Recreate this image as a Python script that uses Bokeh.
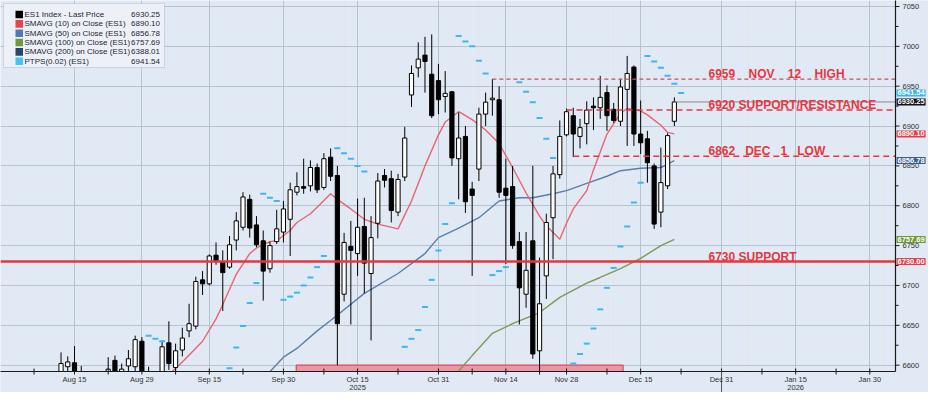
import pandas as pd
from bokeh.plotting import figure
from bokeh.models import (ColumnDataSource, Range1d, FixedTicker, Span, Label, BoxAnnotation, Grid)
from bokeh.core.properties import value
from bokeh.embed import file_html
from bokeh.resources import INLINE

# ---------------- data (trading-day index, 0 = Aug 15 2025) ----------------
DAY_IDX = list(range(-2, 90))
OPEN = [6575, 6598, 6603, 6572, 6578, 6545, 6548, 6530, 6606, 6568, 6599, 6598, 6630, 6585, 6550,
        6575, 6628, 6597, 6619, 6643, 6649, 6707, 6702, 6738, 6730, 6723, 6757, 6773, 6808, 6776,
        6756, 6721, 6755, 6767, 6783, 6817, 6824, 6825, 6848, 6823, 6861, 6838, 6689, 6749, 6740,
        6774, 6715, 6778, 6838, 6834, 6792, 6836, 6939, 6973, 6989, 6965, 6957, 6937, 6943, 6859,
        6887, 6821, 6846, 6915, 6933, 6933, 6822, 6824, 6755, 6689, 6756, 6618, 6712, 6785, 6839,
        6889, 6913, 6887, 6903, 6925, 6923, 6942, 6921, 6906, 6946, 6974, 6890, 6884, 6850, 6792,
        6825, 6906]
HIGH = [6616, 6611, 6624, 6599, 6591, 6560, 6560, 6610, 6612, 6602, 6619, 6637, 6635, 6598, 6580,
        6631, 6655, 6627, 6647, 6677, 6711, 6718, 6739, 6754, 6744, 6762, 6792, 6817, 6814, 6787,
        6769, 6755, 6795, 6806, 6829, 6842, 6859, 6857, 6853, 6866, 6872, 6850, 6766, 6781, 6809,
        6810, 6787, 6841, 6846, 6844, 6840, 6899, 6976, 7005, 7012, 7015, 6978, 6969, 6944, 6917,
        6900, 6830, 6923, 6942, 6959, 6950, 6859, 6850, 6767, 6767, 6850, 6735, 6790, 6850, 6907,
        6922, 6923, 6909, 6931, 6936, 6963, 6951, 6929, 6959, 6988, 6976, 6932, 6894, 6853, 6873,
        6891, 6936]
LOW = [6570, 6580, 6565, 6562, 6540, 6510, 6520, 6525, 6566, 6562, 6591, 6590, 6580, 6530, 6540,
       6570, 6594, 6590, 6611, 6635, 6645, 6688, 6700, 6726, 6668, 6721, 6744, 6769, 6760, 6748,
       6681, 6716, 6752, 6754, 6737, 6813, 6815, 6818, 6816, 6820, 6831, 6600, 6680, 6651, 6712,
       6690, 6631, 6759, 6823, 6779, 6787, 6831, 6924, 6961, 6942, 6910, 6915, 6917, 6850, 6808,
       6791, 6712, 6831, 6900, 6913, 6810, 6727, 6746, 6651, 6672, 6608, 6575, 6683, 6733, 6834,
       6887, 6861, 6872, 6877, 6895, 6909, 6894, 6904, 6900, 6875, 6875, 6865, 6829, 6771, 6773,
       6821, 6900]
CLOSE = [6602, 6604, 6570, 6576, 6548, 6550, 6530, 6595, 6570, 6595, 6608, 6632, 6586, 6540, 6575,
         6623, 6602, 6618, 6634, 6652, 6705, 6702, 6737, 6730, 6716, 6751, 6781, 6811, 6772, 6751,
         6718, 6750, 6771, 6796, 6820, 6824, 6822, 6848, 6820, 6859, 6837, 6652, 6754, 6744, 6773,
         6728, 6760, 6831, 6832, 6794, 6833, 6885, 6966, 6984, 6981, 6913, 6933, 6941, 6860, 6885,
         6805, 6813, 6915, 6930, 6935, 6817, 6813, 6750, 6697, 6719, 6614, 6677, 6779, 6840, 6887,
         6918, 6890, 6898, 6920, 6923, 6936, 6913, 6907, 6949, 6966, 6890, 6879, 6854, 6777, 6829,
         6888, 6930.25]

SMA10_X = [13, 16, 19, 21, 22, 24, 26, 27, 29, 30, 32, 33, 35, 36, 38, 39, 41, 43, 45, 48, 50, 52,
           54, 55, 57, 59, 61, 63, 65, 67, 69, 70, 72, 73, 74, 76, 77, 79, 81, 82, 84, 85, 87, 88, 89]
SMA10_Y = [6580, 6604, 6630, 6658, 6676, 6714, 6740, 6747, 6755, 6756, 6769, 6779, 6790, 6798, 6815,
           6808, 6796, 6783, 6777, 6771, 6806, 6850, 6889, 6905, 6918, 6908, 6895, 6878, 6848, 6816,
           6787, 6775, 6758, 6778, 6796, 6819, 6845, 6890, 6916, 6922, 6919, 6914, 6901, 6892, 6890.10]
SMA50_X = [28, 31, 33, 36, 38, 43, 48, 52, 54, 57, 60, 63, 66, 68, 71, 73, 76, 79, 81, 84, 87, 88, 89]
SMA50_Y = [6583, 6610, 6621, 6643, 6656, 6690, 6715, 6740, 6760, 6772, 6785, 6806, 6810, 6810, 6815,
           6819, 6828, 6837, 6844, 6847, 6848, 6852, 6856.78]
SMA100_X = [56, 59, 62, 65, 69, 72, 76, 78, 81, 84, 87, 89]
SMA100_Y = [6583, 6612, 6640, 6652, 6666, 6685, 6703, 6710, 6721, 6734, 6750, 6757.69]

SAR_X = [11, 12, 13, 23, 24, 25, 26, 27, 28, 29, 30, 31, 32, 33, 34, 35, 36, 37, 39, 40, 41, 42, 43,
         49, 50, 51, 52, 53, 54, 55, 56, 57, 58, 59, 60, 61, 62, 63, 64, 66, 67, 68, 69, 70, 71,
         73, 74, 75, 76, 77, 78, 79, 80, 81, 82, 83, 84, 85, 86, 87, 88, 89, 90]
SAR_Y = [6637, 6633, 6630, 6596, 6622, 6649, 6678, 6703, 6815, 6810, 6806, 6682, 6686, 6691, 6700,
         6710, 6723, 6737, 6872, 6866, 6859, 6850, 6843, 6623, 6633, 6644, 6673, 6707, 6744, 6777,
         6803, 7013, 7006, 7000, 6982, 6966, 6713, 6718, 6723, 6955, 6943, 6930, 6910, 6884, 6860,
         6587, 6602, 6614, 6627, 6646, 6670, 6697, 6722, 6749, 6774, 6804, 6829, 6988, 6981, 6973,
         6963, 6953, 6941.54]

TICK_IDX = [0, 10, 20, 31, 42, 54, 64, 73, 84, 96, 107, 118]
TICK_LABELS = ["Aug 15", "Aug 29", "Sep 15", "Sep 30", "Oct 15", "Oct 31", "Nov 14",
               "Nov 28", "Dec 15", "Dec 31", "Jan 15", "Jan 30"]
MINOR_IDX = [-6, 5, 15, 25, 37, 48, 59, 69, 79, 90, 102, 113]
YEAR_IDX = [42, 107]
YEAR_LABELS = ["2025", "2026"]
YEAR_BREAK_IDX = [96]
PRICE_TICKS = [6600, 6650, 6700, 6750, 6800, 6850, 6900, 6950, 7000, 7050]
PRICE_MINOR = [6625, 6675, 6725, 6775, 6825, 6875, 6925, 6975, 7025]

LEVELS = [6959, 6920, 6862, 6730]
LEVEL_WORDS = [["6959", "NOV", "12", "HIGH"], ["6920", "SUPPORT/RESISTANCE"],
               ["6862", "DEC", "1", "LOW"], ["6730", "SUPPORT"]]
LEVEL_GAP = [4, 1, 3, 1]          # visual word spacing, in spaces
LEVEL_START = [62, 73, 74]
ZONE_X = [32.9, 81.4]
ZONE_Y = [6560, 6600]

LEGEND_NAMES = ["ES1 Index - Last Price", "SMAVG (10)  on Close (ES1)", "SMAVG (50)  on Close (ES1)",
                "SMAVG (100)  on Close (ES1)", "SMAVG (200)  on Close (ES1)", "PTPS(0.02) (ES1)"]
LEGEND_VALUES = [6930.25, 6890.10, 6856.78, 6757.69, 6388.01, 6941.54]
LEGEND_COLORS = ["#000000", "#e8424c", "#4f7ab3", "#6f9a3a", "#24466e", "#45c3f2"]

TAG_VALUES = [6941.54, 6930.25, 6890.10, 6856.78, 6757.69, 6730.00]
TAG_COLORS = ["#3cb6ea", "#111111", "#e0404c", "#3d5f8c", "#6e9a34", "#e0404c"]

# ---------------- layout (pixel positions measured on the picture) ----------------
SX = 6.74                      # px per trading day
SY = 0.797                     # px per index point
FW, FH = 928, 392
X0 = -74 / SX                  # Aug 15 sits at px 74
X_END = X0 + FW / SX
X_AXIS = X0 + 895 / SX         # price axis at px 895
Y1 = 7050 + 6 / SY             # 7050 sits at px 6
Y0 = Y1 - FH / SY
BG = "#e1e9f4"
RED = "#e8363f"
INK = "#1a1a1a"
GRID = "#b7c2cf"


def dx(px):
    return X0 + px / SX


def dy(py):
    return Y1 - py / SY


AXIS_Y = dy(371)

p = figure(frame_width=FW, frame_height=FH, x_range=Range1d(X0, X_END), y_range=Range1d(Y0, Y1),
           x_axis_location=None, y_axis_location=None, output_backend="svg", toolbar_location=None,
           min_border_left=0, min_border_top=0, min_border_right=0, min_border_bottom=0,
           background_fill_color=BG, border_fill_color=BG)
p.outline_line_color = None
p.add_layout(Grid(dimension=0, ticker=FixedTicker(ticks=TICK_IDX), grid_line_color=GRID))
p.add_layout(Grid(dimension=1, ticker=FixedTicker(ticks=PRICE_TICKS), grid_line_color=GRID))

# zone box
p.quad(left=[ZONE_X[0]], right=[ZONE_X[1]], bottom=[ZONE_Y[0]], top=[ZONE_Y[1]],
       fill_color="#ec8c9e", fill_alpha=0.9, line_color="#d94b5e", line_width=1.2)

# moving averages
p.line(SMA100_X, SMA100_Y, line_color="#7d9a55", line_width=1.4)
p.line(SMA50_X, SMA50_Y, line_color="#5b7fa8", line_width=1.4)
p.line(SMA10_X, SMA10_Y, line_color="#e8646e", line_width=1.4)

# candles
df = pd.DataFrame(dict(x=DAY_IDX, open=OPEN, high=HIGH, low=LOW, close=CLOSE))
df["top"] = df[["open", "close"]].max(axis=1)
df["bottom"] = df[["open", "close"]].min(axis=1)
df["fill"] = ["#ffffff" if c >= o else "#000000" for o, c in zip(df.open, df.close)]
src = ColumnDataSource(df)
p.segment(x0="x", y0="low", x1="x", y1="high", source=src, line_color="#000000", line_width=1)
p.vbar(x="x", width=0.62, top="top", bottom="bottom", fill_color="fill", line_color="#000000",
       line_width=1, source=src)

# parabolic SAR
p.scatter(SAR_X, SAR_Y, marker="dash", size=6, line_color="#3cb8ec", line_width=2)

# support / resistance
p.add_layout(Span(location=LEVELS[3], dimension="width", line_color=RED, line_width=2.5))
p.segment(x0=[LEVEL_START[0]], y0=[LEVELS[0]], x1=[X_AXIS], y1=[LEVELS[0]], line_color="#c4525a",
          line_width=1.2, line_dash="4 3")
p.segment(x0=LEVEL_START[1:], y0=LEVELS[1:3], x1=[X_AXIS, X_AXIS], y1=LEVELS[1:3], line_color=RED,
          line_width=1.5, line_dash="6 4")
# last price line
p.segment(x0=[DAY_IDX[-1]], y0=[CLOSE[-1]], x1=[X_AXIS], y1=[CLOSE[-1]], line_color="#8a8a8a",
          line_width=1)

for lvl, words, gap in zip(LEVELS, LEVEL_WORDS, LEVEL_GAP):
    txt = (" " + "\u00a0" * (gap - 1)).join(words)
    p.add_layout(Label(x=dx(708), y=lvl, text=txt, text_font="Liberation Sans",
                       text_font_style="bold", text_font_size="12px", text_color=RED,
                       text_baseline="alphabetic", y_offset=5, level="overlay"))

# cover the axis margins (right of the price axis, below the time axis)
p.add_layout(BoxAnnotation(left=X_AXIS, right=X_END, bottom=Y0, top=Y1, fill_color=BG,
                           fill_alpha=1, line_color=None, level="annotation"))
p.add_layout(BoxAnnotation(left=X0, right=X_END, bottom=Y0, top=AXIS_Y, fill_color=BG,
                           fill_alpha=1, line_color=None, level="annotation"))

# hand-drawn price axis on the right
tick_len = 4 / SX
p.segment(x0=[X_AXIS], y0=[AXIS_Y], x1=[X_AXIS], y1=[Y1], line_color=INK, line_width=1.2,
          level="overlay")
p.segment(x0=[X_AXIS] * len(PRICE_TICKS), y0=PRICE_TICKS, x1=[X_AXIS + tick_len] * len(PRICE_TICKS),
          y1=PRICE_TICKS, line_color=INK, line_width=1, level="overlay")
p.segment(x0=[X_AXIS] * len(PRICE_MINOR), y0=PRICE_MINOR,
          x1=[X_AXIS + 0.75 * tick_len] * len(PRICE_MINOR), y1=PRICE_MINOR, line_color=INK,
          line_width=1, level="overlay")
p.text(x=[X_AXIS + 7 / SX] * len(PRICE_TICKS), y=PRICE_TICKS, text=[str(t) for t in PRICE_TICKS],
       text_font=value("Liberation Sans"), text_font_size="7.5px", text_color="#333333",
       text_baseline="middle", text_align="left", level="overlay")

# hand-drawn time axis at the bottom
p.segment(x0=[X0], y0=[AXIS_Y], x1=[X_AXIS], y1=[AXIS_Y], line_color=INK, line_width=1.2,
          level="overlay")
all_ticks = [t for t in TICK_IDX + MINOR_IDX if t > X0]
p.segment(x0=all_ticks, y0=[dy(368)] * len(all_ticks), x1=all_ticks, y1=[dy(374)] * len(all_ticks),
          line_color=INK, line_width=1, level="overlay")
p.segment(x0=YEAR_BREAK_IDX, y0=[AXIS_Y], x1=YEAR_BREAK_IDX, y1=[Y0], line_color="#555555",
          line_width=1, level="overlay")
p.text(x=TICK_IDX, y=[dy(378.5)] * len(TICK_IDX), text=TICK_LABELS,
       text_font=value("Liberation Sans"), text_font_size="7.5px", text_color="#333333",
       text_baseline="middle", text_align="center", level="overlay")
p.text(x=YEAR_IDX, y=[dy(386.5)] * len(YEAR_IDX), text=YEAR_LABELS,
       text_font=value("Liberation Sans"), text_font_size="7.5px", text_color="#333333",
       text_baseline="middle", text_align="center", level="overlay")

# price tags on right axis
for v, c in zip(TAG_VALUES, TAG_COLORS):
    p.add_layout(Label(x=X_AXIS, y=v, x_offset=1, text=f"{v:.2f}", text_baseline="middle",
                       text_align="left", text_font="Liberation Sans", text_font_size="7.5px",
                       text_font_style="bold", text_color="#ffffff", background_fill_color=c,
                       padding=1, level="overlay"))

# legend box
p.add_layout(BoxAnnotation(left=dx(3), right=dx(164), top=dy(3), bottom=dy(67),
                           fill_color="#edf1f7", fill_alpha=1, line_color="#8d99a8",
                           line_width=1, level="overlay"))
for i, (name, val, col) in enumerate(zip(LEGEND_NAMES, LEGEND_VALUES, LEGEND_COLORS)):
    cy = 14 + 9.35 * i
    p.add_layout(BoxAnnotation(left=dx(15), right=dx(22.5), top=dy(cy - 3.8), bottom=dy(cy + 3.8),
                               fill_color=col, fill_alpha=1, line_color=None, level="overlay"))
    p.add_layout(Label(x=dx(24), y=dy(cy), text=name, text_baseline="middle",
                       text_font="Liberation Sans", text_font_size="8px", text_color="#1d2636",
                       level="overlay"))
    p.add_layout(Label(x=dx(159.5), y=dy(cy), text=f"{val:.2f}", text_baseline="middle",
                       text_align="right", text_font="Liberation Sans", text_font_size="8px",
                       text_color="#1d2636", level="overlay"))

open("out.html", "w").write(file_html(p, INLINE))
